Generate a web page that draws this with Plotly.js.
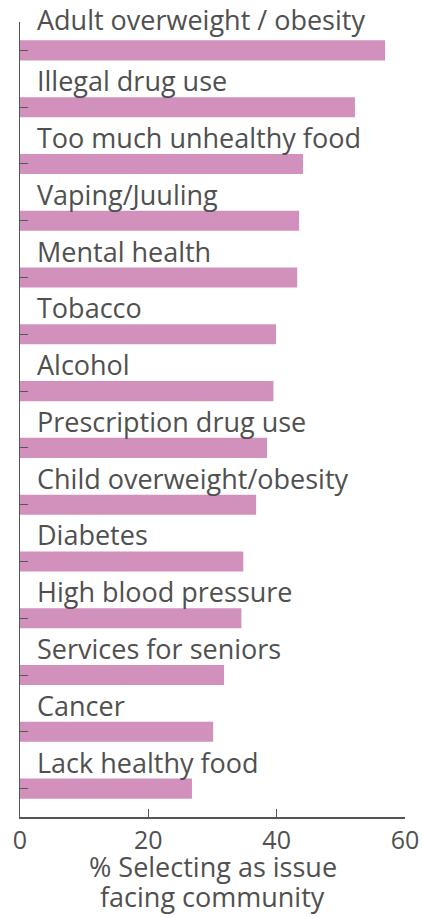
<!DOCTYPE html>
<html>
<head>
<meta charset="utf-8">
<script src="https://cdn.plot.ly/plotly-3.0.1.min.js"></script>
<style>html,body{margin:0;padding:0;background:#fff;}</style>
</head>
<body>
<div id="chart" style="width:423px;height:917px;"></div>
<script>
var categories = [
  "Adult overweight / obesity",
  "Illegal drug use",
  "Too much unhealthy food",
  "Vaping/Juuling",
  "Mental health",
  "Tobacco",
  "Alcohol",
  "Prescription drug use",
  "Child overweight/obesity",
  "Diabetes",
  "High blood pressure",
  "Services for seniors",
  "Cancer",
  "Lack healthy food"
];
var values = [56.9, 52.2, 44.1, 43.5, 43.2, 39.9, 39.5, 38.5, 36.8, 34.8, 34.5, 31.8, 30.1, 26.8];
var xTicks = [0, 20, 40, 60];
var xTitleLines = ["% Selecting as issue", "facing community"];

var textColor = "#505050";
var font = "Open Sans, sans-serif";

var trace = {
  type: "bar",
  orientation: "h",
  x: values,
  y: categories,
  marker: {color: "#D291BC"},
  width: 0.353,
  hoverinfo: "skip"
};

var annotations = categories.map(function (c, i) {
  return {
    x: 0, y: c, xref: "x", yref: "y",
    text: c,
    showarrow: false,
    xanchor: "left",
    yanchor: "middle",
    xshift: 15,
    yshift: i === 0 ? 31 : 26.5,
    font: {family: font, size: 27, color: textColor}
  };
});

// x-axis title (two lines, tighter line spacing than Plotly's default)
xTitleLines.forEach(function (line, i) {
  annotations.push({
    x: 0.5, y: 0, xref: "paper", yref: "paper",
    text: line,
    showarrow: false,
    xanchor: "center",
    yanchor: "middle",
    yshift: -49.5 - 30 * i,
    font: {family: font, size: 27, color: textColor}
  });
});

var layout = {
  width: 423,
  height: 917,
  margin: {l: 20, r: 18, t: 22, b: 100, pad: 0},
  paper_bgcolor: "#fff",
  plot_bgcolor: "#fff",
  showlegend: false,
  font: {family: font, color: textColor, size: 25},
  xaxis: {
    range: [0, 60],
    tickvals: xTicks,
    ticktext: xTicks.map(String),
    showgrid: false,
    zeroline: false,
    showline: true,
    linecolor: "#555",
    linewidth: 1.5,
    ticks: "inside",
    ticklen: 8,
    tickcolor: "#555",
    tickfont: {family: font, size: 25, color: textColor},
    automargin: false,
    fixedrange: true
  },
  yaxis: {
    type: "category",
    range: [categories.length - 0.5, -0.5],
    autorange: false,
    showticklabels: false,
    showgrid: false,
    zeroline: false,
    showline: true,
    linecolor: "#555",
    linewidth: 1.5,
    ticks: "inside",
    ticklen: 8,
    tickcolor: "#555",
    automargin: false,
    fixedrange: true
  },
  annotations: annotations
};

Plotly.newPlot("chart", [trace], layout, {displayModeBar: false, staticPlot: true});
</script>
</body>
</html>
